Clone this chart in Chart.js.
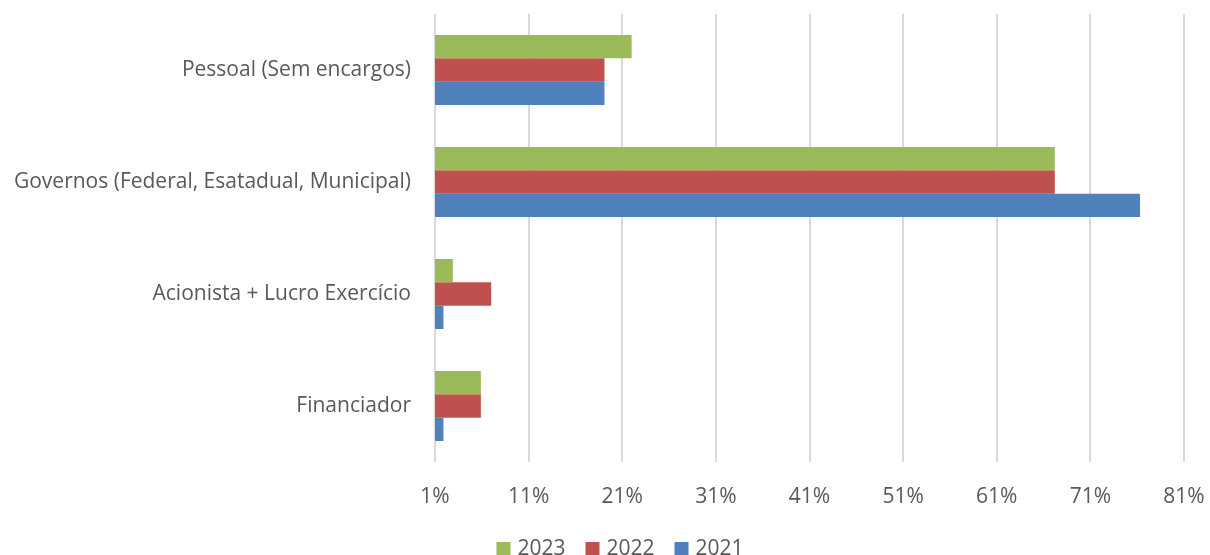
<!DOCTYPE html>
<html>
<head>
<meta charset="utf-8">
<script src="https://cdn.jsdelivr.net/npm/chart.js@4.4.1/dist/chart.umd.min.js"></script>
<style>
  html, body { margin: 0; padding: 0; background: #fff; }
</style>
</head>
<body>
<canvas id="chart" width="1210" height="555"></canvas>
<script>
// categories, top to bottom
const categories = [
  "Pessoal (Sem encargos)",
  "Governos (Federal, Esatadual, Municipal)",
  "Acionista + Lucro Exercício",
  "Financiador"
];
const years = ["2023", "2022", "2021"];

// bar ends, in percent
const values2023 = [22.0, 67.2, 2.9, 5.9];
const values2022 = [19.1, 67.2, 7.0, 5.9];
const values2021 = [19.1, 76.3, 1.9, 1.9];

// x axis: 1% .. 81% by 10
const tickMin = 1;
const tickMax = 81;
const tickStep = 10;

const textColor = "#595959";
const fontFamily = "'Open Sans', sans-serif";
const fontSize = 21;

// legend drawn by hand so it can sit low like in the original
const bottomLegend = {
  id: "bottomLegend",
  afterDraw(chart) {
    const c = chart.ctx;
    const sets = chart.data.datasets;
    const box = 14, gapText = 7, gapItem = 20;
    c.save();
    c.font = fontSize + "px " + fontFamily;
    c.textBaseline = "middle";
    c.textAlign = "left";
    const widths = sets.map(ds => box + gapText + c.measureText(ds.label).width);
    const total = widths.reduce((a, b) => a + b, 0) + gapItem * (sets.length - 1);
    let x = 620 - total / 2;
    const y = 549;
    sets.forEach((ds, i) => {
      c.fillStyle = ds.backgroundColor;
      c.fillRect(x, y - 7, box, box);
      c.fillStyle = textColor;
      c.fillText(ds.label, x + box + gapText, y);
      x += widths[i] + gapItem;
    });
    c.restore();
  }
};

const ctx = document.getElementById("chart").getContext("2d");

new Chart(ctx, {
  type: "bar",
  data: {
    labels: categories,
    datasets: [
      { label: years[0], data: values2023, backgroundColor: "#9BBB59" },
      { label: years[1], data: values2022, backgroundColor: "#C0504D" },
      { label: years[2], data: values2021, backgroundColor: "#4F81BD" }
    ]
  },
  options: {
    indexAxis: "y",
    responsive: false,
    devicePixelRatio: 1,
    animation: false,
    datasets: {
      bar: {
        categoryPercentage: 0.625,
        barPercentage: 1,
        borderWidth: 0
      }
    },
    layout: {
      padding: { top: 14, right: 26, left: 0, bottom: 0 }
    },
    plugins: {
      legend: { display: false },
      tooltip: { enabled: false }
    },
    scales: {
      x: {
        min: tickMin,
        max: tickMax,
        grid: { color: "#d9d9d9", lineWidth: 2, drawTicks: false },
        border: { display: false },
        ticks: {
          stepSize: tickStep,
          padding: 22,
          color: textColor,
          font: { family: fontFamily, size: fontSize },
          callback: function(value) {
            return value + "%";
          }
        },
        afterFit: function(scale) {
          scale.height = 93;
          scale.paddingLeft = 0;
          scale.paddingRight = 0;
        }
      },
      y: {
        grid: { display: false, drawTicks: false },
        border: { display: false },
        ticks: {
          padding: 24,
          color: textColor,
          font: { family: fontFamily, size: fontSize }
        },
        afterFit: function(scale) {
          scale.width = 435;
          scale.paddingTop = 0;
          scale.paddingBottom = 0;
        }
      }
    }
  },
  plugins: [bottomLegend]
});
</script>
</body>
</html>
